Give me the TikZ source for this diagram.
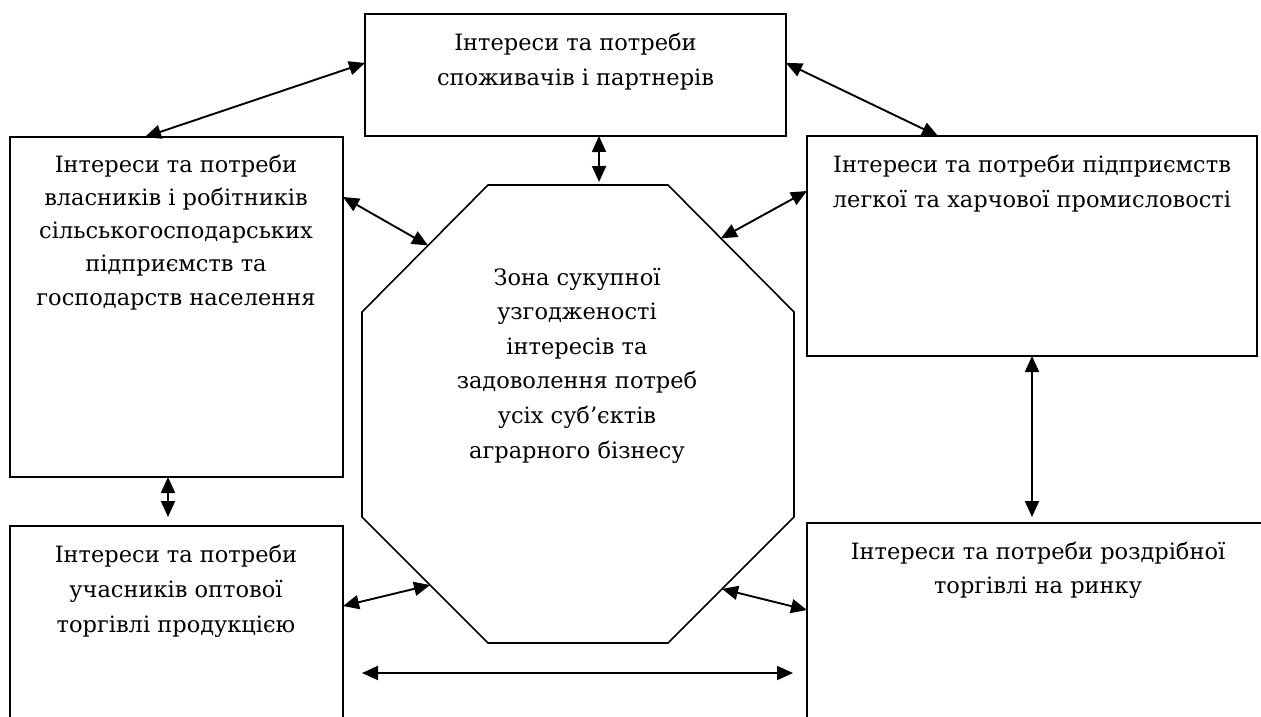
\documentclass[tikz,border=0pt]{standalone}
\usepackage{fontspec}
\setmainfont{DejaVu Serif}
\usetikzlibrary{arrows.meta,calc}
\begin{document}
\begin{tikzpicture}[x=1pt,y=-1pt,
  box/.style={draw, line width=1.9pt, inner sep=0pt, outer sep=0pt},
  boxtext/.style={anchor=north, inner sep=0pt, outer sep=0pt, align=center},
  octo/.style={draw, line width=1.6pt, line join=miter},
  link/.style={line width=1.9pt,
    {Triangle[length=16pt,width=14pt]}-{Triangle[length=16pt,width=14pt]}}
]
\useasboundingbox (0,0) rectangle (1261,717);
\clip (0,0) rectangle (1261,717);

% participant boxes
\node[box, minimum width=421pt, minimum height=122pt] (tbox) at (575.5,75) {};
\node[box, minimum width=333pt, minimum height=340pt] (lbox) at (176.5,307) {};
\node[box, minimum width=450pt, minimum height=220pt] (rbox) at (1032,246) {};
\node[box, minimum width=333pt, minimum height=260pt] (blbox) at (176.5,656) {};
\node[box, minimum width=462pt, minimum height=257pt] (brbox) at (1038,651.5) {};

% box captions
\node[boxtext, font=\fontsize{22.5}{35}\selectfont] (ttext) at (575.5,32)
  {\rule{0pt}{18pt}Інтереси та потреби\\споживачів і партнерів};
\node[boxtext, font=\fontsize{22.5}{33.25}\selectfont] (ltext) at (176,154)
  {\rule{0pt}{18pt}Інтереси та потреби\\власників і робітників\\сільськогосподарських\\підприємств та\\господарств населення};
\node[boxtext, font=\fontsize{22.5}{35}\selectfont] (rtext) at (1032,154)
  {\rule{0pt}{18pt}Інтереси та потреби підприємств\\легкої та харчової промисловості};
\node[boxtext, font=\fontsize{22.5}{35}\selectfont] (bltext) at (176,544)
  {\rule{0pt}{18pt}Інтереси та потреби\\учасників оптової\\торгівлі продукцією};
\node[boxtext, font=\fontsize{22.5}{34}\selectfont] (brtext) at (1038,541)
  {\rule{0pt}{18pt}Інтереси та потреби роздрібної\\торгівлі на ринку};

% central octagon
\coordinate (oTL) at (488,185);
\coordinate (oTR) at (668,185);
\coordinate (oRT) at (794,312);
\coordinate (oRB) at (794,517);
\coordinate (oBR) at (668,643);
\coordinate (oBL) at (488,643);
\coordinate (oLB) at (362,517);
\coordinate (oLT) at (362,312);
\draw[octo] (oTL) -- (oTR) -- (oRT) -- (oRB) -- (oBR) -- (oBL) -- (oLB) -- (oLT) -- cycle;
\node[boxtext, font=\fontsize{22.5}{34.6}\selectfont] (otext) at (577,267)
  {\rule{0pt}{18pt}Зона сукупної\\узгодженості\\інтересів та\\задоволення потреб\\усіх суб’єктів\\аграрного бізнесу};

% two-way links
\draw[link] ($(lbox.north west)+(135,0)$) -- ($(tbox.north west)+(0,49)$);
\draw[link] ($(tbox.north east)+(0,49)$) -- ($(rbox.north west)+(131,0)$);
\draw[link] ($(tbox.south west)+(234,0)$) -- ($(oTL)!0.617!(oTR)+(0,-3)$);
\draw[link] ($(lbox.north east)+(0,60)$) -- ($(oTL)!0.476!(oLT)$);
\draw[link] ($(rbox.north west)+(0,55)$) -- ($(oTR)!0.42!(oRT)$);
\draw[link] ($(lbox.south west)+(158,0)$) -- ($(blbox.north west)+(158,-9)$);
\draw[link] (rbox.south) -- ($(rbox.south |- brbox.north)+(0,-6)$);
\draw[link] ($(blbox.north east)+(0,80)$) -- ($(oLB)!0.54!(oBL)$);
\draw[link] ($(brbox.north west)+(0,87)$) -- ($(oRB)!0.571!(oBR)$);
\coordinate (hL) at (362,673);
\coordinate (hR) at (793,673);
\draw[link] (hL) -- (hR);
\end{tikzpicture}
\end{document}
